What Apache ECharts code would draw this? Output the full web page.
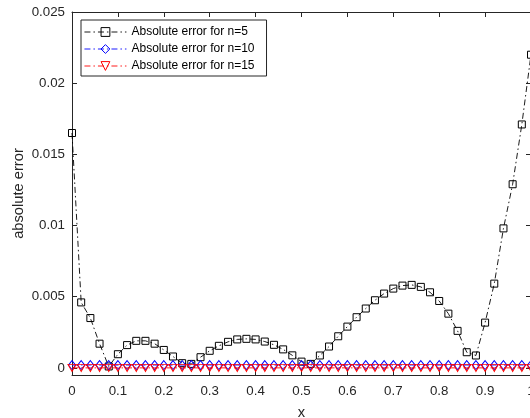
<!DOCTYPE html>
<html>
<head>
<meta charset="utf-8">
<script src="https://cdn.jsdelivr.net/npm/echarts@6/dist/echarts.min.js"></script>
<style>
html,body{margin:0;padding:0;background:#fff;}
#chart{width:530px;height:418px;}
</style>
</head>
<body>
<div id="chart"></div>
<script>
// x positions of the samples
const xValues = [0.00,0.02,0.04,0.06,0.08,0.10,0.12,0.14,0.16,0.18,
                 0.20,0.22,0.24,0.26,0.28,0.30,0.32,0.34,0.36,0.38,
                 0.40,0.42,0.44,0.46,0.48,0.50,0.52,0.54,0.56,0.58,
                 0.60,0.62,0.64,0.66,0.68,0.70,0.72,0.74,0.76,0.78,
                 0.80,0.82,0.84,0.86,0.88,0.90,0.92,0.94,0.96,0.98,1.00];
// absolute error, n=5
const errN5 = [0.0165,0.0046,0.0035,0.0017,0.0001,0.00096,0.0016,0.0019,0.0019,0.0017,
               0.00126,0.0008,0.00033,0.00028,0.00075,0.0012,0.00155,0.00183,0.0020,0.00204,
               0.0020,0.00185,0.00162,0.0013,0.00088,0.00044,0.00028,0.00087,0.0015,0.00222,
               0.0029,0.00356,0.00417,0.00475,0.00522,0.00557,0.00578,0.00583,0.00569,0.00531,
               0.0047,0.00381,0.0026,0.0011,0.00087,0.00318,0.00592,0.0098,0.0129,0.0171,0.0220];
// absolute error, n=10
const errN10 = [0.0002,0.0002,0.0002,0.0002,0.0002,0.0002,0.0002,0.0002,0.0002,0.0002,
                0.0002,0.0002,0.0002,0.0002,0.0002,0.0002,0.0002,0.0002,0.0002,0.0002,
                0.0002,0.0002,0.0002,0.0002,0.0002,0.0002,0.0002,0.0002,0.0002,0.0002,
                0.0002,0.0002,0.0002,0.0002,0.0002,0.0002,0.0002,0.0002,0.0002,0.0002,
                0.0002,0.0002,0.0002,0.0002,0.0002,0.0002,0.0002,0.0002,0.0002,0.0002,0.0002];
// absolute error, n=15
const errN15 = [0,0,0,0,0,0,0,0,0,0,
                0,0,0,0,0,0,0,0,0,0,
                0,0,0,0,0,0,0,0,0,0,
                0,0,0,0,0,0,0,0,0,0,
                0,0,0,0,0,0,0,0,0,0,0];
const seriesNames = ['Absolute error for n=5','Absolute error for n=10','Absolute error for n=15'];
const xTickValues = [0,0.1,0.2,0.3,0.4,0.5,0.6,0.7,0.8,0.9,1];
const xTickLabels = ['0','0.1','0.2','0.3','0.4','0.5','0.6','0.7','0.8','0.9','1'];
const yTickValues = [0,0.005,0.01,0.015,0.02,0.025];
const yTickLabels = ['0','0.005','0.01','0.015','0.02','0.025'];

function pairs(ys){ return xValues.map((x,i)=>[x,ys[i]]); }
function lookup(vals,labels,v){
  let best=0;
  for(let i=0;i<vals.length;i++){ if(Math.abs(vals[i]-v)<Math.abs(vals[best]-v)) best=i; }
  return labels[best];
}

const FONT = '"Liberation Sans", Arial, Helvetica, sans-serif';
const AX = '#262626';
const dashDot = [6,3,1.5,3];

const chart = echarts.init(document.getElementById('chart'), null, {renderer:'canvas'});
chart.setOption({
  animation:false,
  backgroundColor:'#fff',
  textStyle:{fontFamily:FONT},
  grid:{left:72, right:-1, top:12, bottom:43, containLabel:false, outerBoundsMode:'none'},
  legend:{
    orient:'vertical', left:81, top:20,
    padding:[6,12,4,3],
    itemWidth:42, itemHeight:11, itemGap:5,
    backgroundColor:'#fff', borderColor:AX, borderWidth:1,
    textStyle:{fontFamily:FONT, fontSize:12, color:'#000', lineHeight:12},
    itemStyle:{borderWidth:1},
    lineStyle:{width:0.9},
    data:seriesNames
  },
  xAxis:[{
    type:'value', min:0, max:1, interval:0.1, position:'bottom',
    name:'x', nameLocation:'middle', nameGap:30, nameMoveOverlap:false,
    nameTextStyle:{fontFamily:FONT, fontSize:14.7, color:AX},
    axisLine:{show:true, onZero:false, lineStyle:{color:AX, width:1}},
    axisTick:{show:true, inside:true, length:5, lineStyle:{color:AX}},
    axisLabel:{show:true, margin:10, fontFamily:FONT, fontSize:13.3, color:AX,
      formatter:v=>lookup(xTickValues,xTickLabels,v)},
    splitLine:{show:false}
  },{
    type:'value', min:0, max:1, interval:0.1, position:'top',
    axisLine:{show:true, onZero:false, lineStyle:{color:AX, width:1}},
    axisTick:{show:true, inside:true, length:5, lineStyle:{color:AX}},
    axisLabel:{show:false}, splitLine:{show:false}
  }],
  yAxis:[{
    type:'value', min:-0.0005, max:0.025, position:'left',
    name:'absolute error', nameLocation:'middle', nameGap:46, nameMoveOverlap:false,
    nameTextStyle:{fontFamily:FONT, fontSize:14.7, color:AX},
    axisLine:{show:true, onZero:false, lineStyle:{color:AX, width:1}},
    axisTick:{show:true, inside:true, length:5, customValues:yTickValues, lineStyle:{color:AX}},
    axisLabel:{show:true, margin:7, fontFamily:FONT, fontSize:13.3, color:AX,
      customValues:yTickValues,
      formatter:v=>lookup(yTickValues,yTickLabels,v)},
    splitLine:{show:false}
  },{
    type:'value', min:-0.0005, max:0.025, position:'right',
    axisLine:{show:true, onZero:false, lineStyle:{color:AX, width:1}},
    axisTick:{show:true, inside:true, length:5, customValues:yTickValues, lineStyle:{color:AX}},
    axisLabel:{show:false}, splitLine:{show:false}
  }],
  series:[{
    name:seriesNames[0], type:'line', data:pairs(errN5),
    xAxisIndex:0, yAxisIndex:0,
    symbol:'rect', symbolSize:7,
    lineStyle:{color:'#000', width:0.9, type:dashDot},
    itemStyle:{color:'rgba(255,255,255,0)', borderColor:'#000', borderWidth:1},
    emphasis:{disabled:true}, z:2
  },{
    name:seriesNames[1], type:'line', data:pairs(errN10),
    xAxisIndex:0, yAxisIndex:0,
    symbol:'diamond', symbolSize:[7,9],
    lineStyle:{color:'#0000ff', width:0.9, type:dashDot},
    itemStyle:{color:'rgba(255,255,255,0)', borderColor:'#0000ff', borderWidth:1},
    emphasis:{disabled:true}, z:3
  },{
    name:seriesNames[2], type:'line', data:pairs(errN15),
    xAxisIndex:0, yAxisIndex:0,
    symbol:'triangle', symbolRotate:180, symbolSize:[8,7],
    lineStyle:{color:'#ff0000', width:0.9, type:dashDot},
    itemStyle:{color:'rgba(255,255,255,0)', borderColor:'#ff0000', borderWidth:1},
    emphasis:{disabled:true}, z:4
  }]
});
</script>
</body>
</html>
